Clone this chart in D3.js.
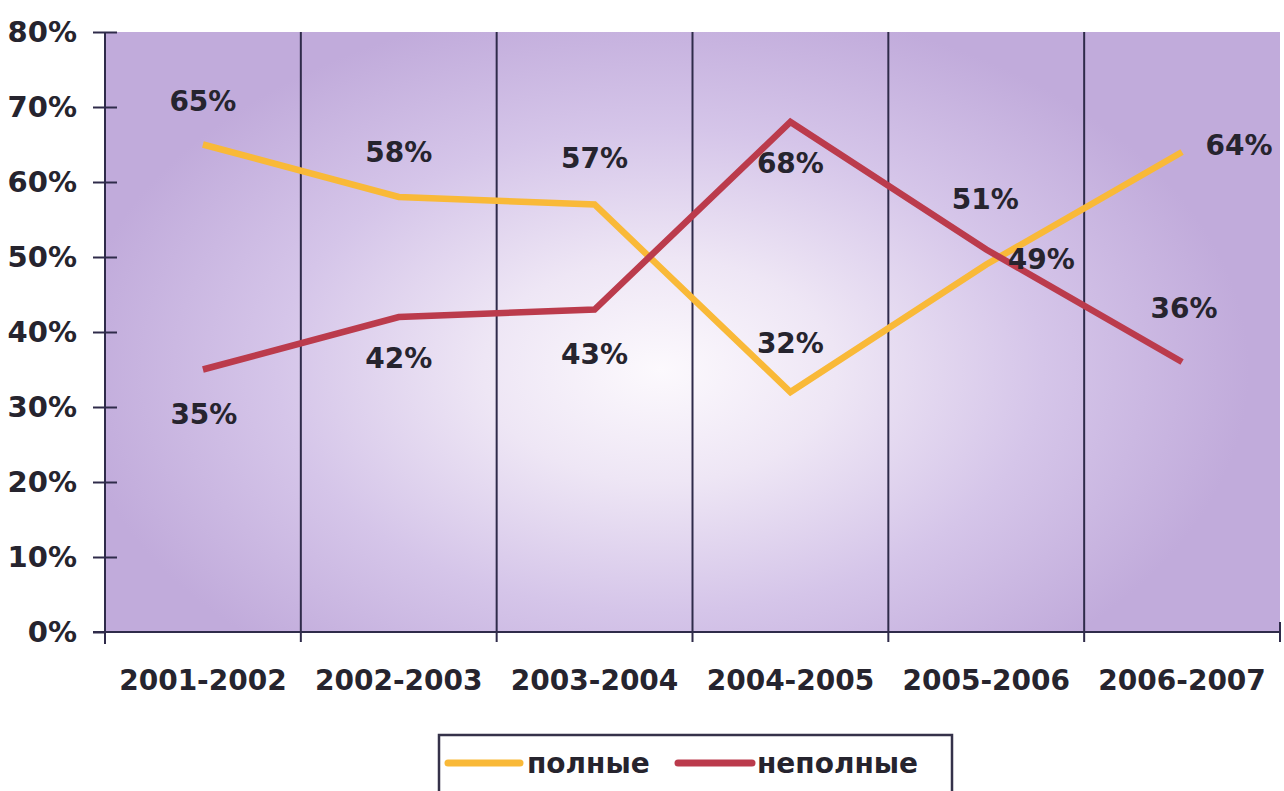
<!DOCTYPE html>
<html>
<head>
<meta charset="utf-8">
<script src="https://cdn.jsdelivr.net/npm/d3@7"></script>
<style>
  body { margin: 0; background: #fff; }
  text { font-family: "DejaVu Sans", sans-serif; font-weight: bold; fill: #26242e; }
</style>
</head>
<body>
<div id="chart"></div>
<script>
// data
var years = ["2001-2002", "2002-2003", "2003-2004", "2004-2005", "2005-2006", "2006-2007"];
var polnye = [65, 58, 57, 32, 49, 64];
var nepolnye = [35, 42, 43, 68, 51, 36];
var yTicks = [0, 10, 20, 30, 40, 50, 60, 70, 80];
var seriesNames = ["полные", "неполные"];

// where each value label sits relative to its point (label centre, px)
var polnyeLabelShift = [[0, -44], [0, -45], [0, -47], [0, -49], [55, -6], [57, -7]];
var nepolnyeLabelShift = [[1, 44], [0, 41], [0, 44], [0, 41], [-1, -51], [2, -54]];

var width = 1284, height = 791;
// note: "top" is taken by window.top, so use plot* names
var plotLeft = 105, plotRight = 1280, plotTop = 32, plotBottom = 632;
var colors = ["#f9b938", "#bb3b4c"];
var axisColor = "#2f2b4a";

var svg = d3.select("#chart").append("svg")
    .attr("width", width)
    .attr("height", height);

/* background gradient */
var defs = svg.append("defs");
var grad = defs.append("radialGradient")
    .attr("id", "bg")
    .attr("gradientUnits", "userSpaceOnUse")
    .attr("cx", 660).attr("cy", 370).attr("r", 620)
    .attr("gradientTransform", "translate(660,370) scale(0.95,0.6) translate(-660,-370)");
grad.append("stop").attr("offset", "0").attr("stop-color", "#fcf9fd");
grad.append("stop").attr("offset", "0.3").attr("stop-color", "#eee6f5");
grad.append("stop").attr("offset", "0.65").attr("stop-color", "#d5c5e9");
grad.append("stop").attr("offset", "1").attr("stop-color", "#c1abdb");

/* Scale */
var x = d3.scaleBand().domain(years).range([plotLeft, plotRight]).padding(0);
var y = d3.scaleLinear().domain([0, 80]).range([plotBottom, plotTop]);
var cx = d => x(d) + x.bandwidth() / 2;

svg.append("rect")
    .attr("x", plotLeft).attr("y", plotTop)
    .attr("width", plotRight - plotLeft).attr("height", plotBottom - plotTop)
    .attr("fill", "url(#bg)");

/* vertical grid lines at category boundaries */
var bounds = years.map(d => x(d)).slice(1);
svg.append("g").selectAll("line")
    .data(bounds)
    .enter().append("line")
    .attr("x1", d => d).attr("x2", d => d)
    .attr("y1", plotTop).attr("y2", plotBottom + 10)
    .attr("stroke", axisColor).attr("stroke-width", 2);

// tick at the far right end of the x axis
svg.append("line")
    .attr("x1", plotRight).attr("x2", plotRight)
    .attr("y1", plotBottom - 10).attr("y2", plotBottom + 10)
    .attr("stroke", axisColor).attr("stroke-width", 2);

/* y axis */
var yAxis = d3.axisLeft(y)
    .tickValues(yTicks)
    .tickFormat(d => d + "%")
    .tickSizeInner(12)
    .tickSizeOuter(0)
    .tickPadding(16);

var gy = svg.append("g")
    .attr("transform", `translate(${plotLeft},0)`)
    .call(yAxis);
gy.select(".domain").attr("stroke", axisColor).attr("stroke-width", 2)
    .attr("d", `M0,${plotTop}V${plotBottom + 12}`);
gy.selectAll(".tick line").attr("stroke", axisColor).attr("stroke-width", 2)
    .attr("x2", -12).attr("x1", d => d === 0 ? 0 : 12);
gy.selectAll(".tick text")
    .style("font-size", "29px")
    .attr("fill", "#26242e");

/* x axis */
var xAxis = d3.axisBottom(x).tickSize(0).tickPadding(38);
var gx = svg.append("g")
    .attr("transform", `translate(0,${plotBottom})`)
    .call(xAxis);
gx.select(".domain").attr("stroke", axisColor).attr("stroke-width", 2)
    .attr("d", `M${plotLeft - 12},0H${plotRight}`);
gx.selectAll(".tick text")
    .style("font-size", "28px")
    .attr("fill", "#26242e");

/* lines */
var line = d3.line()
    .x((d, i) => cx(years[i]))
    .y(d => y(d));

[polnye, nepolnye].forEach(function(vals, k) {
    svg.append("path")
        .datum(vals)
        .attr("d", line)
        .attr("fill", "none")
        .attr("stroke", colors[k])
        .attr("stroke-width", 6.5)
        .attr("stroke-linejoin", "miter");
});

/* value labels */
[[polnye, polnyeLabelShift], [nepolnye, nepolnyeLabelShift]].forEach(function(pair) {
    var vals = pair[0], shift = pair[1];
    svg.append("g").selectAll("text")
        .data(vals)
        .enter().append("text")
        .attr("x", (d, i) => cx(years[i]) + shift[i][0])
        .attr("y", (d, i) => y(d) + shift[i][1])
        .attr("dy", "0.36em")
        .attr("text-anchor", "middle")
        .style("font-size", "28px")
        .text(d => d + "%");
});

/* legend */
var legend = svg.append("g");
legend.append("rect")
    .attr("x", 439).attr("y", 735)
    .attr("width", 513).attr("height", 80)
    .attr("fill", "#fff")
    .attr("stroke", "#35324a").attr("stroke-width", 2.5);

var legendItems = [
    {x1: 448, x2: 520, tx: 527},
    {x1: 678, x2: 752, tx: 757}
];
legendItems.forEach(function(it, k) {
    legend.append("line")
        .attr("x1", it.x1).attr("x2", it.x2)
        .attr("y1", 763).attr("y2", 763)
        .attr("stroke", colors[k]).attr("stroke-width", 7)
        .attr("stroke-linecap", "round");
    legend.append("text")
        .attr("x", it.tx).attr("y", 763)
        .attr("dy", "0.36em")
        .style("font-size", "28px")
        .text(seriesNames[k]);
});
</script>
</body>
</html>
